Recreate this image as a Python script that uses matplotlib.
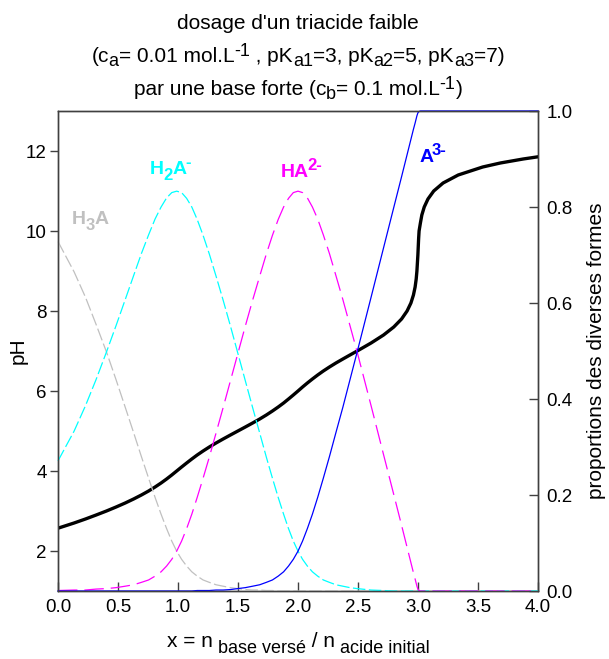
import matplotlib
matplotlib.use("Agg")
import matplotlib.pyplot as plt
from matplotlib.transforms import IdentityTransform

plt.rcParams['font.family'] = ['Liberation Sans', 'DejaVu Sans']
plt.rcParams['lines.scale_dashes'] = False

# x = n base / n acid, pH and species fractions
x_vals = [0.000, 0.134, 0.229, 0.318, 0.404, 0.484, 0.560, 0.630, 0.695, 0.755,
          0.809, 0.859, 0.905, 0.948, 0.989, 1.030, 1.072, 1.115, 1.160, 1.209,
          1.261, 1.317, 1.376, 1.437, 1.499, 1.561, 1.622, 1.681, 1.736, 1.787,
          1.835, 1.880, 1.921, 1.961, 2.000, 2.038, 2.078, 2.120, 2.164, 2.211,
          2.262, 2.316, 2.374, 2.433, 2.493, 2.609, 2.713, 2.798, 2.863, 2.909,
          2.941, 2.962, 2.976, 2.985, 2.991, 2.999, 3.005, 3.009, 3.020, 3.032,
          3.052, 3.083, 3.131, 3.209, 3.335, 3.539, 3.686, 3.876, 4.000]
ph_vals = [2.57, 2.70, 2.80, 2.90, 3.00, 3.10, 3.20, 3.30, 3.40, 3.50,
           3.60, 3.70, 3.80, 3.90, 4.00, 4.10, 4.20, 4.30, 4.40, 4.50,
           4.60, 4.70, 4.80, 4.90, 5.00, 5.10, 5.20, 5.30, 5.40, 5.50,
           5.60, 5.70, 5.80, 5.90, 6.00, 6.10, 6.20, 6.30, 6.40, 6.50,
           6.60, 6.70, 6.80, 6.90, 7.00, 7.20, 7.40, 7.60, 7.80, 8.00,
           8.20, 8.40, 8.60, 8.80, 9.00, 9.40, 9.80, 10.00, 10.20, 10.40,
           10.60, 10.80, 11.00, 11.20, 11.40, 11.60, 11.70, 11.80, 11.855]
h3a = [0.728, 0.665, 0.612, 0.555, 0.498, 0.440, 0.383, 0.330, 0.280, 0.235,
       0.195, 0.160, 0.130, 0.104, 0.083, 0.066, 0.052, 0.040, 0.031, 0.023,
       0.018, 0.013, 0.010, 0.007, 0.005, 0.003, 0.002, 0.002, 0.001, 0.001,
       0, 0, 0, 0, 0, 0, 0, 0, 0, 0,
       0, 0, 0, 0, 0, 0, 0, 0, 0, 0,
       0, 0, 0, 0, 0, 0, 0, 0, 0, 0,
       0, 0, 0, 0, 0, 0, 0, 0, 0]
h2a = [0.271, 0.333, 0.386, 0.441, 0.498, 0.553, 0.607, 0.657, 0.703, 0.742,
       0.775, 0.800, 0.819, 0.830, 0.833, 0.830, 0.818, 0.800, 0.774, 0.741,
       0.702, 0.656, 0.606, 0.552, 0.495, 0.438, 0.382, 0.329, 0.279, 0.235,
       0.195, 0.160, 0.130, 0.104, 0.083, 0.066, 0.052, 0.040, 0.031, 0.023,
       0.018, 0.013, 0.010, 0.007, 0.005, 0.002, 0.001, 0, 0, 0,
       0, 0, 0, 0, 0, 0, 0, 0, 0, 0,
       0, 0, 0, 0, 0, 0, 0, 0, 0]
ha2 = [0.001, 0.002, 0.002, 0.004, 0.005, 0.007, 0.010, 0.013, 0.018, 0.023,
       0.031, 0.040, 0.052, 0.066, 0.083, 0.104, 0.130, 0.160, 0.195, 0.235,
       0.279, 0.329, 0.382, 0.438, 0.495, 0.552, 0.606, 0.656, 0.702, 0.741,
       0.774, 0.800, 0.818, 0.830, 0.833, 0.830, 0.819, 0.800, 0.775, 0.742,
       0.703, 0.657, 0.607, 0.553, 0.498, 0.386, 0.284, 0.201, 0.137, 0.091,
       0.059, 0.038, 0.025, 0.016, 0.010, 0.004, 0.002, 0.001, 0, 0,
       0, 0, 0, 0, 0, 0, 0, 0, 0]
a3 = [0, 0, 0, 0, 0, 0, 0, 0, 0, 0,
      0, 0, 0, 0, 0, 0, 0, 0, 0.001, 0.001,
      0.001, 0.002, 0.002, 0.003, 0.005, 0.007, 0.010, 0.013, 0.018, 0.023,
      0.031, 0.040, 0.052, 0.066, 0.083, 0.104, 0.130, 0.160, 0.195, 0.235,
      0.280, 0.330, 0.383, 0.440, 0.498, 0.612, 0.715, 0.799, 0.863, 0.909,
      0.941, 0.962, 0.975, 0.984, 0.990, 0.996, 0.998, 0.999, 1, 1,
      1, 1, 1, 1, 1, 1, 1, 1, 1]

x_ticks = [0.0, 0.5, 1.0, 1.5, 2.0, 2.5, 3.0, 3.5, 4.0]
ph_ticks = [2, 4, 6, 8, 10, 12]
prop_ticks = [0.0, 0.2, 0.4, 0.6, 0.8, 1.0]

W, H = 609, 659
fig = plt.figure(figsize=(W / 100, H / 100), dpi=100)
ax = fig.add_axes([58 / W, 68 / H, 480 / W, 480 / H])
ax2 = ax.twinx()
renderer = fig.canvas.get_renderer()
pix = IdentityTransform()


def text_width(s, size, weight):
    t = fig.text(0, 0, s + '|', fontsize=size, fontweight=weight)
    w1 = t.get_window_extent(renderer).width
    t.set_text('|')
    w2 = t.get_window_extent(renderer).width
    t.remove()
    return w1 - w2


def rich(x, y_top, pieces, ha='left', color='black', weight='normal', kern=0):
    # pieces: (text, size, baseline shift in px); x, y_top in pixels from top-left
    widths = [text_width(s, sz, weight) + kern for s, sz, dy in pieces]
    x0 = x - sum(widths) / 2 if ha == 'center' else x
    for (s, sz, dy), w in zip(pieces, widths):
        fig.text(x0, H - y_top + dy, s, fontsize=sz, fontweight=weight, color=color,
                 ha='left', va='baseline', transform=pix)
        x0 += w


spine_col = '#404040'

ax.plot(x_vals, ph_vals, color='black', lw=2.4, zorder=5)
ax.set_xlim(0, 4)
ax.set_ylim(1, 13)
ax.set_xticks(x_ticks)
ax.set_xticklabels([f'{t:.1f}' for t in x_ticks])
ax.set_yticks(ph_ticks)
ax.tick_params(axis='x', direction='in', length=6.5, width=1, labelsize=13.5, pad=6, color=spine_col)
ax.tick_params(axis='y', direction='out', length=6, width=1, labelsize=13.5, pad=2, color=spine_col)

ax2.plot(x_vals, h3a, color='#c0c0c0', lw=0.9, dashes=(9, 2.5), clip_on=False)
ax2.plot(x_vals, h2a, color='#00ffff', lw=0.9, dashes=(9, 2.5), clip_on=False)
ax2.plot(x_vals, ha2, color='#ff00ff', lw=0.9, dashes=(14, 5), clip_on=False)
ax2.plot(x_vals, a3, color='#0000ff', lw=0.9, clip_on=False)
ax2.set_ylim(0, 1)
ax2.set_yticks(prop_ticks)
ax2.set_yticklabels([f'{t:.1f}' for t in prop_ticks])
ax2.tick_params(axis='y', direction='in', length=6.5, width=1, labelsize=13.5, pad=6, color=spine_col)

for a in (ax, ax2):
    for s in a.spines.values():
        s.set_color(spine_col)
        s.set_linewidth(1)

# axis labels
fig.text(18, H - 351, 'pH', fontsize=15, rotation=90, ha='center', va='center', transform=pix)
fig.text(597, H - 351, 'proportions des diverses formes', fontsize=15, rotation=90,
         ha='center', va='center', transform=pix)
rich(298, 647, [('x = n', 15, 0), (' base versé', 13, -6), (' / n', 15, 0),
                (' acide initial', 13, -6)], ha='center')

# species labels
rich(72, 224, [('H', 14, 0), ('3', 12, -6), ('A', 14, 0)], color='#c0c0c0', weight='bold', kern=-0.5)
rich(150, 174, [('H', 14, 0), ('2', 12, -6), ('A', 14, 0), ('-', 12, 7)], color='#00ffff',
     weight='bold', kern=-0.5)
rich(281, 177, [('HA', 14, 0), ('2-', 12, 7)], color='#ff00ff', weight='bold', kern=-2)
rich(420, 162, [('A', 14, 0), ('3-', 12, 7)], color='#0000ff', weight='bold', kern=-2)

# title
rich(298, 29, [("dosage d'un triacide faible", 15, 0)], ha='center')
rich(298, 62, [('(c', 15, 0), ('a', 13, -4), ('= 0.01 mol.L', 15, 0), ('-1', 13, 6),
               (' , pK', 15, 0), ('a1', 13, -4), ('=3, pK', 15, 0), ('a2', 13, -4),
               ('=5, pK', 15, 0), ('a3', 13, -4), ('=7)', 15, 0)], ha='center')
rich(298, 95, [('par une base forte (c', 15, 0), ('b', 13, -4), ('= 0.1 mol.L', 15, 0),
               ('-1', 13, 6), (')', 15, 0)], ha='center')

fig.savefig('out.png', dpi=100)
